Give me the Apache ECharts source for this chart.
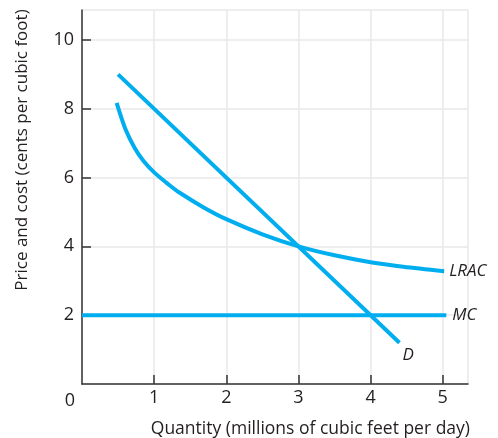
<!DOCTYPE html>
<html>
<head>
<meta charset="utf-8">
<script src="https://cdn.jsdelivr.net/npm/echarts@6/dist/echarts.min.js"></script>
<style>
  html, body { margin: 0; padding: 0; background: #fff; }
  #chart { width: 498px; height: 438px; }
</style>
</head>
<body>
<div id="chart"></div>
<script>
// 需求曲线 D
var demandX = [0.5, 4.4];
var demandY = [9, 1.2];
// 边际成本 MC
var mcX = [0, 5.05];
var mcY = [2, 2];
// 长期平均成本 LRAC
var lracX = [0.48, 0.6, 0.73, 0.85, 1, 1.2, 1.36, 1.68, 2, 2.5, 3, 3.5, 4, 4.45, 5.02];
var lracY = [8.17, 7.42, 6.86, 6.49, 6.15, 5.8, 5.55, 5.14, 4.79, 4.35, 4.0, 3.74, 3.54, 3.41, 3.28];

var xTicks = [1, 2, 3, 4, 5];
var yTicks = [2, 4, 6, 8, 10];

var FONT = 'Open Sans';
var LINE = '#00aeef';
var INK = '#231f20';

function pairs(xs, ys) {
    var out = [];
    for (var i = 0; i < xs.length; i++) {
        out.push([xs[i], ys[i]]);
    }
    return out;
}

var chart = echarts.init(document.getElementById('chart'));

var labelStyle = {
    show: true,
    fontFamily: FONT,
    fontStyle: 'italic',
    fontSize: 17,
    color: INK
};

var option = {
    animation: false,
    grid: { left: 82, right: 30, top: 10, bottom: 54 },
    xAxis: {
        type: 'value',
        min: 0,
        max: 5.35,
        interval: 1,
        axisLine: { lineStyle: { color: '#333', width: 1.5 } },
        axisTick: { inside: true, length: 9, lineStyle: { color: '#333', width: 1.5 } },
        axisLabel: {
            showMinLabel: false,
            showMaxLabel: false,
            margin: 5,
            fontFamily: FONT,
            fontSize: 18,
            color: INK,
            formatter: function (v) { return xTicks.indexOf(v) >= 0 ? String(v) : ''; }
        },
        splitLine: { show: true, lineStyle: { color: '#e8e8e8', width: 1.5 } }
    },
    yAxis: {
        type: 'value',
        min: 0,
        max: 10.87,
        interval: 2,
        axisLine: { show: true, lineStyle: { color: '#333', width: 1.5 } },
        axisTick: { show: true, inside: true, length: 9, lineStyle: { color: '#333', width: 1.5 } },
        axisLabel: {
            showMinLabel: false,
            showMaxLabel: false,
            margin: 8,
            fontFamily: FONT,
            fontSize: 18,
            color: INK,
            formatter: function (v) { return yTicks.indexOf(v) >= 0 ? String(v) : ''; }
        },
        splitLine: { show: true, lineStyle: { color: '#e8e8e8', width: 1.5 } }
    },
    series: [{
        name: 'MC',
        type: 'line',
        showSymbol: false,
        data: pairs(mcX, mcY),
        lineStyle: { color: LINE, width: 4 },
        endLabel: Object.assign({}, labelStyle, { formatter: 'MC', distance: 6 })
    }, {
        name: 'LRAC',
        type: 'line',
        showSymbol: false,
        smooth: 0.3,
        data: pairs(lracX, lracY),
        lineStyle: { color: LINE, width: 4 },
        endLabel: Object.assign({}, labelStyle, { formatter: 'LRAC', distance: 5 })
    }, {
        name: 'D',
        type: 'line',
        showSymbol: false,
        data: pairs(demandX, demandY),
        lineStyle: { color: LINE, width: 4 },
        endLabel: Object.assign({}, labelStyle, { formatter: 'D', distance: 0, offset: [3, 12] })
    }],
    graphic: [{
        type: 'text',
        x: 22,
        y: 150,
        rotation: Math.PI / 2,
        style: {
            text: 'Price and cost (cents per cubic foot)',
            fontFamily: FONT,
            fontSize: 17,
            fill: INK,
            align: 'center',
            verticalAlign: 'middle'
        }
    }, {
        type: 'text',
        x: 470,
        y: 429,
        style: {
            text: 'Quantity (millions of cubic feet per day)',
            fontFamily: FONT,
            fontSize: 17.5,
            fill: INK,
            align: 'right',
            verticalAlign: 'middle'
        }
    }, {
        type: 'text',
        x: 70,
        y: 401,
        style: {
            text: '0',
            fontFamily: FONT,
            fontSize: 18,
            fill: INK,
            align: 'center',
            verticalAlign: 'middle'
        }
    }]
};
chart.setOption(option);
</script>
</body>
</html>
